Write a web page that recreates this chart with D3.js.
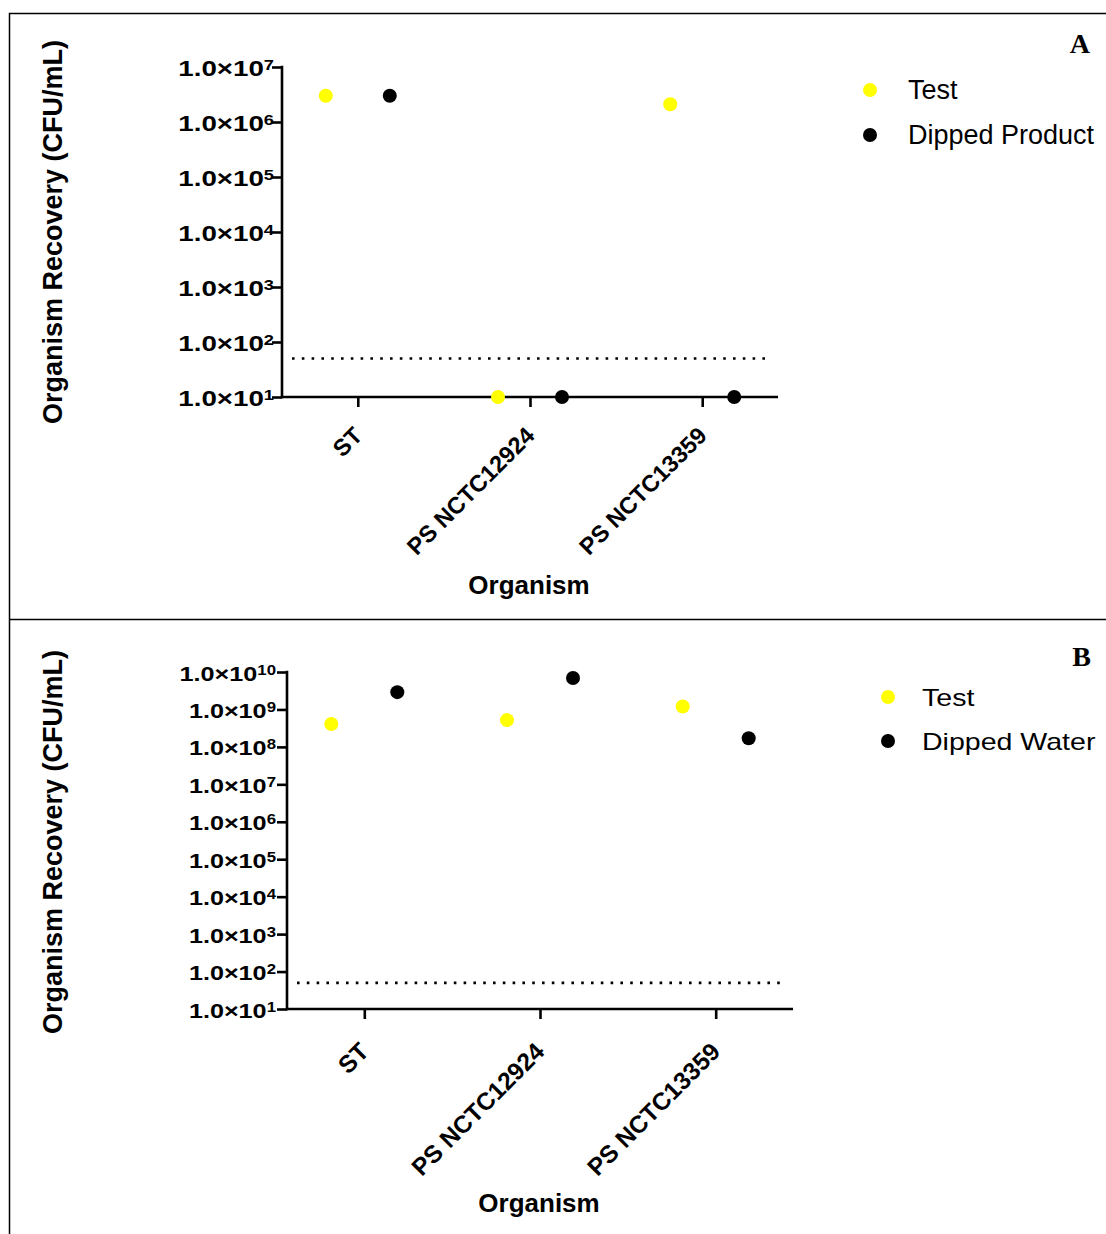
<!DOCTYPE html>
<html>
<head>
<meta charset="utf-8">
<script src="https://cdn.jsdelivr.net/npm/d3@7"></script>
<style>
  html, body { margin: 0; padding: 0; background: #fff; }
  svg { display: block; }
  text { font-family: "Liberation Sans", Arial, sans-serif; fill: #000; }
</style>
</head>
<body>
<svg id="chart" width="1106" height="1234"></svg>
<script>
// Organism categories shared by both panels
const categories = ["ST", "PS NCTC12924", "PS NCTC13359"];

// Panel A: recovery (CFU/mL) for test inoculum vs dipped product
const seriesA = ["Test", "Dipped Product"];
const testA = [3.0e6, 10, 2.1e6];
const dippedProductA = [3.0e6, 10, 10];
const tickExponentsA = [1, 2, 3, 4, 5, 6, 7];

// Panel B: recovery (CFU/mL) for test inoculum vs dipped water
const seriesB = ["Test", "Dipped Water"];
const testB = [4.1e8, 5.2e8, 1.2e9];
const dippedWaterB = [2.9e9, 6.9e9, 1.7e8];
const tickExponentsB = [1, 2, 3, 4, 5, 6, 7, 8, 9, 10];

// Limit of detection drawn as a dotted reference line
const detectionLimit = 50;

const seriesColors = ["#ffff00", "#000000"];

const svg = d3.select("#chart");

// Outer figure frame and the divider between the two panels
svg.append("rect")
  .attr("x", 9.5).attr("y", 13.5)
  .attr("width", 1200).attr("height", 1300)
  .attr("fill", "none").attr("stroke", "#000").attr("stroke-width", 1.5);
svg.append("line")
  .attr("x1", 9.5).attr("x2", 1106)
  .attr("y1", 619.5).attr("y2", 619.5)
  .attr("stroke", "#000").attr("stroke-width", 1.5);

function drawPanel(cfg) {
  const g = svg.append("g");
  const minV = Math.pow(10, d3.min(cfg.tickExps));
  const maxV = Math.pow(10, d3.max(cfg.tickExps));

  const y = d3.scaleLog().domain([minV, maxV]).range([cfg.yBottom, cfg.yTop]);
  const x = d3.scalePoint().domain(categories).range([cfg.xLeft, cfg.xRight]).padding(0.44);
  const offset = d3.scalePoint().domain(cfg.series).range([-cfg.dodge, cfg.dodge]);

  // Y axis: line and ticks, labels drawn as 1.0×10^n
  const yAxis = d3.axisLeft(y)
    .tickValues(cfg.tickExps.map(e => Math.pow(10, e)))
    .tickFormat("")
    .tickSize(10)
    .tickSizeOuter(0);
  const yg = g.append("g").attr("transform", `translate(${cfg.xLeft},0)`).call(yAxis);
  yg.selectAll("path, line").attr("stroke", "#000").attr("stroke-width", 2.6);
  yg.select("path.domain").attr("d", `M0,${cfg.yTop - 1.3}V${cfg.yBottom + 1.3}`);

  const labels = g.append("g");
  cfg.tickExps.forEach(e => {
    const t = labels.append("text")
      .attr("transform", `translate(${cfg.xLeft - cfg.tickGap},${y(Math.pow(10, e)) + 8.5}) scale(${cfg.tickScaleX},1)`)
      .attr("text-anchor", "end")
      .attr("font-weight", "bold")
      .attr("font-size", cfg.tickFont);
    t.append("tspan").text("1.0×10");
    t.append("tspan").attr("font-size", cfg.supFont).attr("dy", -6).text(String(e));
  });

  // X axis with categorical ticks
  const xAxis = d3.axisBottom(x).tickFormat("").tickSize(10).tickSizeOuter(0);
  const xg = g.append("g").attr("transform", `translate(0,${cfg.yBottom})`).call(xAxis);
  xg.selectAll("path, line").attr("stroke", "#000").attr("stroke-width", 2.6);
  xg.select("path.domain").attr("d", `M${cfg.xLeft - 1.3},0H${cfg.xRight}`);

  g.append("g").selectAll("text")
    .data(categories)
    .join("text")
    .attr("transform", d => `translate(${x(d) + 6},${cfg.yBottom + cfg.catDy}) rotate(-45)`)
    .attr("text-anchor", "end")
    .attr("font-weight", "bold")
    .attr("font-size", cfg.catFont)
    .text(d => d);

  // Detection limit
  g.append("line")
    .attr("x1", cfg.xLeft + 10).attr("x2", cfg.xRight - 10)
    .attr("y1", y(detectionLimit)).attr("y2", y(detectionLimit))
    .attr("stroke", "#000").attr("stroke-width", 2.6)
    .attr("stroke-dasharray", "2.6,7.2");

  // Points
  const rows = [];
  cfg.values.forEach((vals, si) => {
    vals.forEach((v, ci) => rows.push({ s: cfg.series[si], si, c: categories[ci], v }));
  });
  g.append("g").selectAll("circle")
    .data(rows)
    .join("circle")
    .attr("cx", d => x(d.c) + offset(d.s))
    .attr("cy", d => y(d.v))
    .attr("r", 7)
    .attr("fill", d => seriesColors[d.si]);

  // Axis titles
  g.append("text")
    .attr("transform", `translate(62,${cfg.yTitleY}) rotate(-90)`)
    .attr("text-anchor", "middle")
    .attr("font-weight", "bold")
    .attr("font-size", 27)
    .text("Organism Recovery (CFU/mL)");
  g.append("text")
    .attr("x", cfg.xTitleX).attr("y", cfg.xTitleY)
    .attr("text-anchor", "middle")
    .attr("font-weight", "bold")
    .attr("font-size", 26)
    .text("Organism");

  // Legend
  const lg = g.append("g");
  cfg.series.forEach((s, i) => {
    const cy = cfg.legendY[i];
    lg.append("circle").attr("cx", cfg.legendDotX).attr("cy", cy).attr("r", 7)
      .attr("fill", seriesColors[i]);
    lg.append("text")
      .attr("transform", `translate(${cfg.legendTextX},${cy + cfg.legendBaseline}) scale(${cfg.legendScaleX},1)`)
      .attr("font-size", cfg.legendFont)
      .text(s);
  });

  // Panel letter
  g.append("text")
    .attr("x", cfg.letterX).attr("y", cfg.letterY)
    .attr("text-anchor", "end")
    .style("font-family", "'Liberation Serif', 'Times New Roman', serif")
    .attr("font-weight", "bold")
    .attr("font-size", 28)
    .text(cfg.letter);
}

drawPanel({
  letter: "A", letterX: 1090, letterY: 53,
  series: seriesA, values: [testA, dippedProductA], tickExps: tickExponentsA,
  xLeft: 282, xRight: 778, yTop: 67, yBottom: 397, dodge: 32,
  tickFont: 22, supFont: 14.5, tickScaleX: 1.26, tickGap: 8,
  catFont: 23.5, catDy: 40,
  yTitleY: 232, xTitleX: 529, xTitleY: 594,
  legendDotX: 870, legendY: [90, 135], legendTextX: 908, legendBaseline: 9,
  legendFont: 27, legendScaleX: 1
});

drawPanel({
  letter: "B", letterX: 1091, letterY: 666,
  series: seriesB, values: [testB, dippedWaterB], tickExps: tickExponentsB,
  xLeft: 287, xRight: 793, yTop: 672, yBottom: 1009, dodge: 33,
  tickFont: 21, supFont: 14, tickScaleX: 1.2, tickGap: 11,
  catFont: 24.5, catDy: 44,
  yTitleY: 842, xTitleX: 539, xTitleY: 1212,
  legendDotX: 888, legendY: [697, 741], legendTextX: 922, legendBaseline: 9,
  legendFont: 24, legendScaleX: 1.19
});
</script>
</body>
</html>
